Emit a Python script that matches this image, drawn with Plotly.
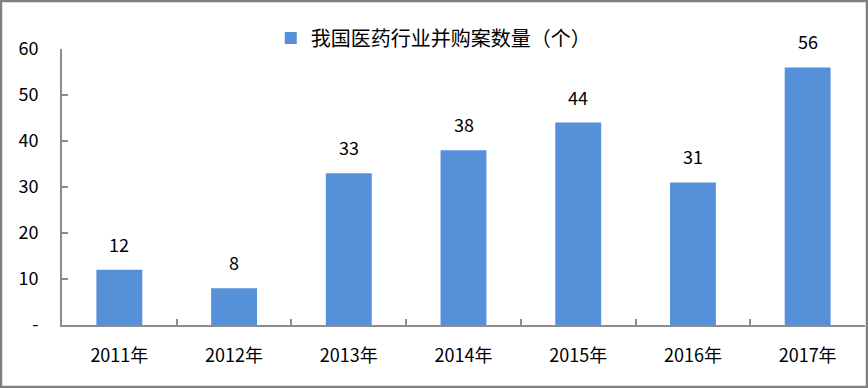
import plotly.graph_objects as go

categories = ["2011年", "2012年", "2013年", "2014年", "2015年", "2016年", "2017年"]
values = [12, 8, 33, 38, 44, 31, 56]
series_name = "我国医药行业并购案数量（个）"
y_tickvals = [0, 10, 20, 30, 40, 50, 60]
y_ticktext = ["-", "10", "20", "30", "40", "50", "60"]

FONT = "Noto Sans CJK SC, Noto Sans, sans-serif"
BAR = "#5590D8"
AXIS = "#8c8c8c"

fig = go.Figure()
fig.add_trace(go.Bar(x=categories, y=values, name=series_name,
                     marker=dict(color=BAR, line=dict(width=0)),
                     width=0.4, showlegend=True))

for c, v in zip(categories, values):
    fig.add_annotation(x=c, y=v, text=str(v), showarrow=False,
                       yanchor="bottom", yshift=11,
                       font=dict(family=FONT, size=18, color="#000"))

fig.update_layout(
    width=868, height=388,
    margin=dict(l=62, r=3, t=49, b=63),
    paper_bgcolor="white", plot_bgcolor="white",
    font=dict(family=FONT, color="#000"),
    showlegend=True,
    legend=dict(orientation="h", x=0.26, xanchor="left", y=1.04, yanchor="middle",
                font=dict(family=FONT, size=20, color="#000"),
                bgcolor="rgba(0,0,0,0)"),
    xaxis=dict(showgrid=False, showline=True, linecolor=AXIS, linewidth=2,
               ticks="inside", tickson="boundaries", ticklen=6, tickcolor=AXIS,
               tickwidth=2, ticklabelstandoff=13,
               tickfont=dict(family=FONT, size=18, color="#000")),
    yaxis=dict(range=[0, 60], showgrid=False, showline=True, linecolor=AXIS,
               linewidth=2, ticks="inside", ticklen=6, tickcolor=AXIS, tickwidth=2,
               tickvals=y_tickvals, ticktext=y_ticktext, ticklabelstandoff=18,
               zeroline=False,
               tickfont=dict(family=FONT, size=18, color="#000")),
)

fig.add_shape(type="rect", xref="paper", yref="paper",
              x0=-61/803, x1=1+2/803, y0=-62/276, y1=1+48/276,
              line=dict(color="#808080", width=2.5), fillcolor="rgba(0,0,0,0)")

fig.write_html("out.html")
